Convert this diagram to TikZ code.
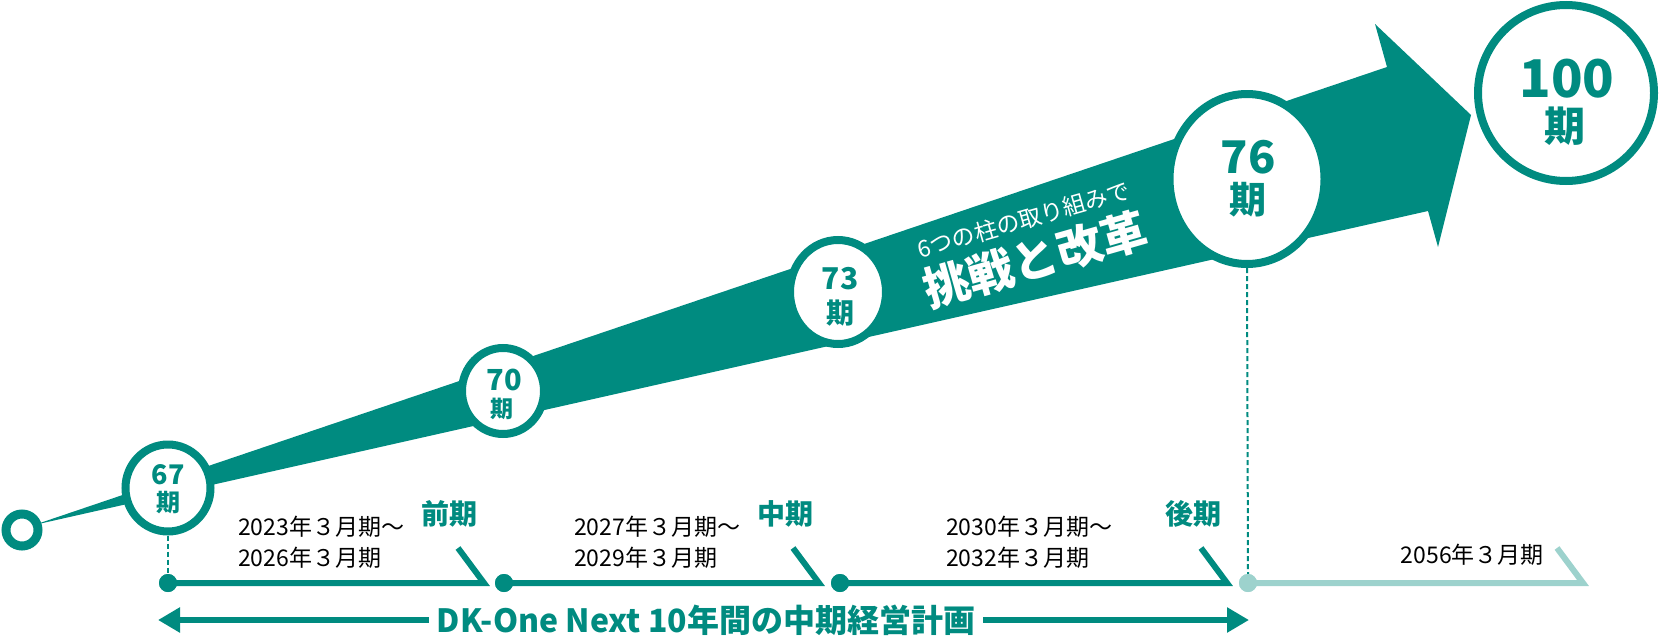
\documentclass[tikz,border=0pt]{standalone}
\usepackage{fontspec}
\setmainfont{Noto Sans CJK JP}
\usetikzlibrary{shapes.geometric,arrows.meta}
\definecolor{teal0}{RGB}{0,139,128}
\definecolor{tealL}{RGB}{157,210,205}
\begin{document}
\begin{tikzpicture}[x=1pt,y=-1pt,
  ring/.style={draw=teal0,line width=8pt,fill=white,ellipse,inner sep=0pt},
  num/.style={text=teal0,font={\fontsize{#1}{#1}\selectfont\bfseries},inner sep=0pt},
  dot/.style={circle,fill=teal0,minimum size=18pt,inner sep=0pt},
  dotL/.style={circle,fill=tealL,minimum size=18pt,inner sep=0pt},
  seg/.style={draw=teal0,line width=6pt,line join=miter},
  segL/.style={draw=tealL,line width=6pt,line join=miter},
  dotline/.style={draw=teal0,line width=2pt,dash pattern=on 5pt off 3pt},
  datetxt/.style={font={\fontsize{23}{31}\selectfont},align=left,inner sep=0pt},
  phase/.style={text=teal0,font={\fontsize{28}{28}\selectfont\bfseries},inner sep=0pt},
  span/.style={draw=teal0,line width=6pt,-{Triangle[length=22pt,width=24pt]}}
]
\useasboundingbox (0,0) rectangle (1660,640);

% big arrow
\fill[teal0] (34,525) -- (1387,67) -- (1375,24) -- (1471,115) -- (1438,247) -- (1428,211) -- cycle;

% start ring
\node[draw=teal0,line width=9pt,fill=white,circle,minimum size=32pt,inner sep=0pt] (start) at (22,530) {};

% milestone circles
\node[ring,minimum width=85pt,minimum height=87pt] (c67) at (168,488) {};
\node[ring,minimum width=82pt,minimum height=86pt] (c70) at (503,391) {};
\node[ring,minimum width=96pt,minimum height=104pt] (c73) at (838,292) {};
\node[ring,minimum width=155pt,minimum height=170pt] (c76) at (1247,179) {};
\node[ring,minimum width=176pt,minimum height=176pt] (c100) at (1566,93) {};

\node[num=27] (n67) at (168,475) {67};
\node[num=24] (k67) at (168,503) {期};
\node[num=29] (n70) at (504,380) {70};
\node[num=23] (k70) at (502,409) {期};
\node[num=30] (n73) at (840,279) {73};
\node[num=28] (k73) at (840,313) {期};
\node[num=45] (n76) at (1248,157) {76};
\node[num=37] (k76) at (1248,200) {期};
\node[num=52] (n100) at (1567,79) {100};
\node[num=41] (k100) at (1565,126) {期};

% slogan
\node[text=white,rotate=16,align=center,inner sep=0pt,font={\fontsize{23}{50}\selectfont}] (slogan) at (1031,245)
  {6つの柱の取り組みで\\{\fontsize{46}{50}\selectfont\bfseries 挑戦と改革}};

% timeline
\node[dot] (d1) at (168,583) {};
\node[dot] (d2) at (504,583) {};
\node[dot] (d3) at (840,583) {};
\node[dotL] (d4) at (1248,583) {};
\coordinate (e1) at (484,583); \coordinate (s1) at (458,548);
\coordinate (e2) at (819,583); \coordinate (s2) at (793,548);
\coordinate (e3) at (1227,583); \coordinate (s3) at (1201,548);
\coordinate (e4) at (1583,583); \coordinate (s4) at (1557,548);
\draw[seg] (d1.center) -- (e1) -- (s1);
\draw[seg] (d2.center) -- (e2) -- (s2);
\draw[seg] (d3.center) -- (e3) -- (s3);
\draw[segL] (d4.center) -- (e4) -- (s4);
\node[dot] at (d1) {};
\node[dot] at (d2) {};
\node[dot] at (d3) {};
\node[dotL] at (d4) {};

\draw[dotline] (c67.south) -- (d1.north);
\draw[dotline] (c76.south) -- (d4.north);

% labels
\node[datetxt,anchor=west] (t1) at (238,542) {2023年３月期〜\\2026年３月期};
\node[datetxt,anchor=west] (t2) at (574,542) {2027年３月期〜\\2029年３月期};
\node[datetxt,anchor=west] (t3) at (946,542) {2030年３月期〜\\2032年３月期};
\node[datetxt,anchor=east] (t4) at (1544,555) {2056年３月期};
\node[phase] (p1) at (449,514) {前期};
\node[phase] (p2) at (785,514) {中期};
\node[phase] (p3) at (1193,514) {後期};

% plan span
\node[text=teal0,font={\fontsize{32}{32}\selectfont\bfseries},inner xsep=8pt,inner ysep=0pt] (dk) at (706,620) {DK-One Next 10年間の中期経営計画};
\coordinate (la) at (158,620);
\coordinate (ra) at (1249,620);
\draw[span] (dk.west) -- (la);
\draw[span] (dk.east) -- (ra);
\end{tikzpicture}
\end{document}
